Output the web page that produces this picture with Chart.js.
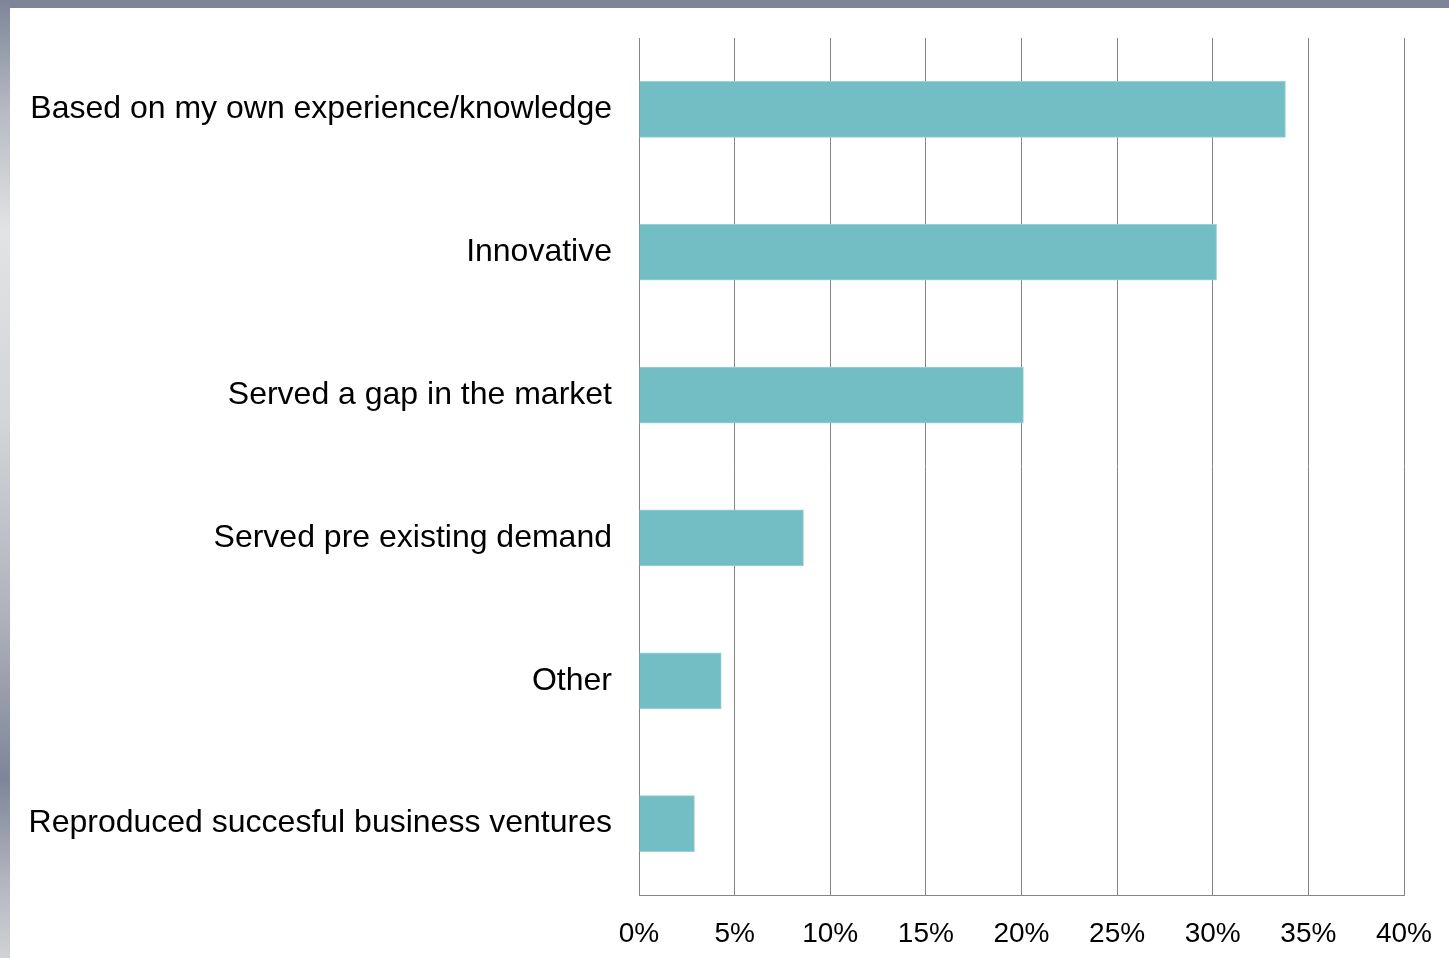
<!DOCTYPE html>
<html>
<head>
<meta charset="utf-8">
<script src="https://cdn.jsdelivr.net/npm/chart.js@4"></script>
<style>
  html, body { margin: 0; padding: 0; }
  body {
    width: 1449px; height: 958px; position: relative; overflow: hidden;
    background: #ffffff;
  }
  #topBand {
    position: absolute; left: 0; top: 0; width: 1449px; height: 8px;
    background: #7f8599;
  }
  #leftBand {
    position: absolute; left: 0; top: 0; width: 10px; height: 958px;
    background: linear-gradient(to bottom, #7f8599 0px, #b5b9c2 110px, #e2e3e4 230px,
      #d2d5d9 420px, #aeb1ba 620px, #7f8599 780px, #b2b5be 880px, #d0d2d6 958px);
  }
  #wrap { position: absolute; left: 10px; top: 8px; width: 1439px; height: 950px; }
</style>
</head>
<body>
<div id="topBand"></div>
<div id="leftBand"></div>
<div id="wrap"><canvas id="reasonsChart" width="1439" height="950"></canvas></div>
<script>
const categories = [
    'Based on my own experience/knowledge',
    'Innovative',
    'Served a gap in the market',
    'Served pre existing demand',
    'Other',
    'Reproduced succesful business ventures'
];
const shares = [33.8, 30.2, 20.1, 8.6, 4.3, 2.9];
const tickValues = [0, 5, 10, 15, 20, 25, 30, 35, 40];

document.addEventListener('DOMContentLoaded', function () {
    const ctx = document.getElementById('reasonsChart').getContext('2d');
    const gridColor = '#858585';

    new Chart(ctx, {
        type: 'bar',
        data: {
            labels: categories,
            datasets: [{
                data: shares,
                backgroundColor: '#72bec4',
                borderColor: '#98d2d6',
                borderWidth: 1,
                barThickness: 56
            }]
        },
        options: {
            indexAxis: 'y',
            responsive: false,
            animation: false,
            devicePixelRatio: 1,
            layout: { padding: { left: 0, right: 45, top: 30, bottom: 0 } },
            plugins: {
                legend: { display: false },
                tooltip: { enabled: false }
            },
            scales: {
                x: {
                    min: 0,
                    max: 40,
                    afterBuildTicks: function (axis) {
                        axis.ticks = tickValues.map(v => ({ value: v }));
                    },
                    afterFit: function (axis) {
                        axis.height = 63;
                        axis.paddingLeft = 0;
                        axis.paddingRight = 0;
                    },
                    grid: {
                        color: gridColor,
                        lineWidth: 1,
                        drawTicks: false
                    },
                    border: { display: true, color: gridColor, width: 1 },
                    ticks: {
                        padding: 22,
                        color: '#000000',
                        font: { family: 'Liberation Sans, Arial', size: 28 },
                        maxRotation: 0,
                        callback: v => v + '%'
                    }
                },
                y: {
                    afterFit: function (axis) {
                        axis.width = 629;
                        axis.paddingTop = 0;
                        axis.paddingBottom = 0;
                    },
                    grid: { display: false, drawTicks: false },
                    border: { display: true, color: gridColor, width: 1 },
                    ticks: {
                        padding: 27,
                        color: '#000000',
                        font: { family: 'Liberation Sans, Arial', size: 32 }
                    }
                }
            }
        }
    });
});
</script>
</body>
</html>
